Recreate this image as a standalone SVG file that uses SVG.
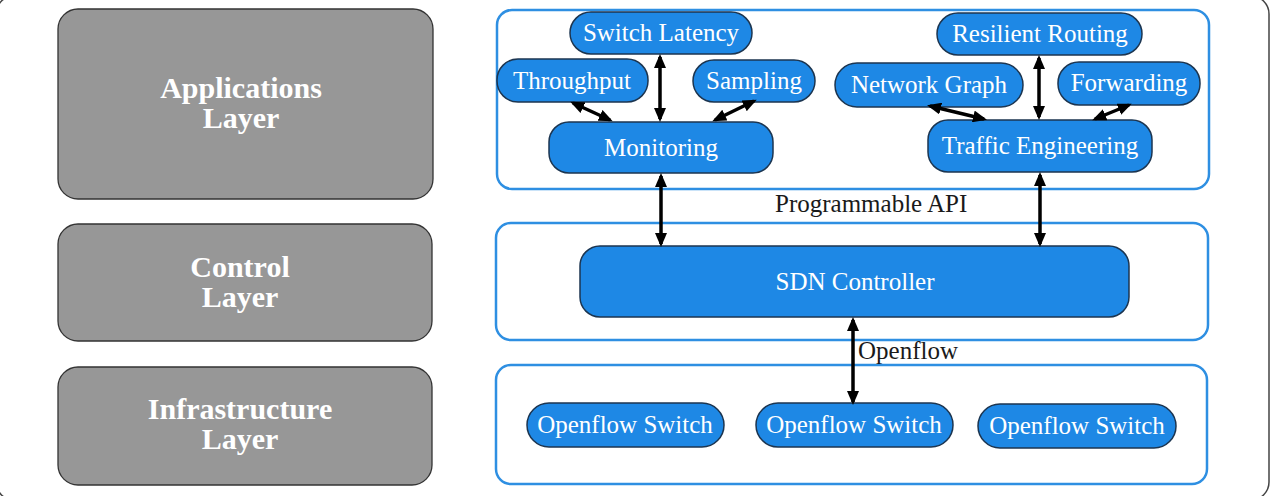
<svg xmlns="http://www.w3.org/2000/svg" width="1272" height="496" viewBox="0 0 1272 496">
<defs>
<style>
.frame{fill:#fff;stroke:#444;stroke-width:1.5}
.layer{fill:#979797;stroke:#333;stroke-width:1.3}
.ltxt{font-family:"Liberation Serif","Times New Roman",serif;font-weight:bold;font-size:30px;fill:#fff;text-anchor:middle}
.cont{fill:#fff;stroke:#2e8fe2;stroke-width:2.5}
.node{fill:#1e88e5;stroke:#1c3550;stroke-width:1.5}
.ntxt{font-family:"Liberation Serif","Times New Roman",serif;font-size:25px;fill:#fff;text-anchor:middle}
.lbl{font-family:"Liberation Serif","Times New Roman",serif;font-size:25px;fill:#1a1a1a}
.conn{stroke:#000;stroke-width:3.5;fill:none;marker-start:url(#ah);marker-end:url(#ah)}
</style>
<marker id="ah" markerUnits="userSpaceOnUse" markerWidth="14" markerHeight="12" viewBox="0 0 14 12" refX="11" refY="6" orient="auto-start-reverse">
<path d="M0,0 L14,6 L0,12 Z" fill="#000"/>
</marker>
</defs>
<rect class="frame" x="-4" y="-4" width="1273" height="504" rx="18"/>

<g id="applications-layer"><rect class="layer" x="58" y="9" width="375" height="190" rx="20"/><text class="ltxt" x="241" y="98">Applications</text><text class="ltxt" x="241" y="128">Layer</text></g>
<g id="control-layer"><rect class="layer" x="58" y="224" width="374" height="117" rx="20"/><text class="ltxt" x="240" y="277">Control</text><text class="ltxt" x="240" y="307">Layer</text></g>
<g id="infrastructure-layer"><rect class="layer" x="58" y="367" width="374" height="118" rx="20"/><text class="ltxt" x="240" y="419">Infrastructure</text><text class="ltxt" x="240" y="449">Layer</text></g>

<g id="app-container"><rect class="cont" x="497" y="10" width="712" height="179" rx="15"/></g>
<g id="control-container"><rect class="cont" x="496" y="223" width="712" height="117" rx="15"/></g>
<g id="infra-container"><rect class="cont" x="496" y="365" width="711" height="119" rx="15"/></g>

<g id="switch-latency"><rect class="node" x="570" y="12" width="182" height="42" rx="21"/><text class="ntxt" x="661" y="41">Switch Latency</text></g>
<g id="throughput"><rect class="node" x="497" y="59" width="151" height="43" rx="21"/><text class="ntxt" x="572" y="89">Throughput</text></g>
<g id="sampling"><rect class="node" x="693" y="60" width="122" height="42" rx="21"/><text class="ntxt" x="754" y="89">Sampling</text></g>
<g id="monitoring"><rect class="node" x="549" y="122" width="224" height="51" rx="20"/><text class="ntxt" x="661" y="156">Monitoring</text></g>

<g id="resilient-routing"><rect class="node" x="937" y="13" width="205" height="42" rx="21"/><text class="ntxt" x="1040" y="42">Resilient Routing</text></g>
<g id="network-graph"><rect class="node" x="835" y="63" width="188" height="44" rx="22"/><text class="ntxt" x="929" y="93">Network Graph</text></g>
<g id="forwarding"><rect class="node" x="1058" y="62" width="142" height="43" rx="21"/><text class="ntxt" x="1129" y="91">Forwarding</text></g>
<g id="traffic-engineering"><rect class="node" x="928" y="120" width="224" height="52" rx="20"/><text class="ntxt" x="1040" y="154">Traffic Engineering</text></g>

<g id="sdn-controller"><rect class="node" x="580" y="246" width="549" height="71" rx="20"/><text class="ntxt" x="855" y="290">SDN Controller</text></g>

<g id="openflow-switch-1"><rect class="node" x="527" y="403" width="197" height="44" rx="22"/><text class="ntxt" x="625" y="433">Openflow Switch</text></g>
<g id="openflow-switch-2"><rect class="node" x="756" y="403" width="197" height="44" rx="22"/><text class="ntxt" x="854" y="433">Openflow Switch</text></g>
<g id="openflow-switch-3"><rect class="node" x="978" y="404" width="198" height="44" rx="22"/><text class="ntxt" x="1077" y="434">Openflow Switch</text></g>

<g id="connectors">
<line class="conn" x1="660" y1="57" x2="660" y2="119"/>
<line class="conn" x1="573" y1="103" x2="610" y2="120"/>
<line class="conn" x1="754" y1="101" x2="715" y2="120"/>
<line class="conn" x1="661" y1="176" x2="661" y2="244"/>
<line class="conn" x1="1039" y1="58" x2="1039" y2="117"/>
<line class="conn" x1="930" y1="106" x2="984" y2="119"/>
<line class="conn" x1="1129" y1="105" x2="1095" y2="119"/>
<line class="conn" x1="1040" y1="175" x2="1040" y2="244"/>
<line class="conn" x1="853" y1="320" x2="853" y2="402"/>
<text class="lbl" x="775" y="212">Programmable API</text>
<text class="lbl" x="858" y="359">Openflow</text>
</g>
</svg>
